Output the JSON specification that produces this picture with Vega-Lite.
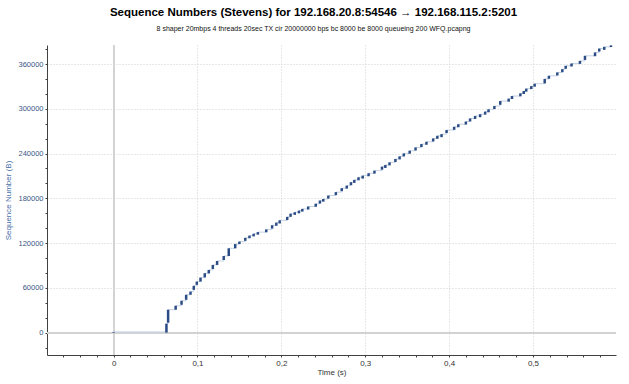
{
  "$schema": "https://vega.github.io/schema/vega-lite/v6.json",
  "autosize": {"type": "none"},
  "width": 569,
  "height": 310,
  "padding": {"left": 47, "top": 45, "right": 13, "bottom": 29},
  "background": "white",
  "config": {"view": {"stroke": null}, "font": "Liberation Sans"},
  "title": {
    "text": "Sequence Numbers (Stevens) for 192.168.20.8:54546 → 192.168.115.2:5201",
    "subtitle": "8 shaper 20mbps 4 threads 20sec TX cir 20000000 bps bc 8000 be 8000 queueing 200 WFQ.pcapng",
    "anchor": "middle",
    "dx": -18,
    "font": "Liberation Sans",
    "fontSize": 11.5,
    "fontWeight": "bold",
    "color": "#000000",
    "subtitleFont": "Liberation Sans",
    "subtitleFontSize": 7,
    "subtitleColor": "#111111",
    "subtitlePadding": 7,
    "offset": 11
  },
  "data": {"values": [
    {"t": 0, "s": 0, "e": 900},
    {"t": 0.063, "s": 0, "e": 12000},
    {"t": 0.065, "s": 13300, "e": 30700},
    {"t": 0.074, "s": 30700, "e": 36000},
    {"t": 0.081, "s": 37300, "e": 42700},
    {"t": 0.0865, "s": 44000, "e": 50700},
    {"t": 0.0917, "s": 50700, "e": 55000},
    {"t": 0.0956, "s": 57300, "e": 62700},
    {"t": 0.0992, "s": 64000, "e": 68400},
    {"t": 0.1036, "s": 68400, "e": 73700},
    {"t": 0.1087, "s": 74000, "e": 79600},
    {"t": 0.1135, "s": 79300, "e": 84000},
    {"t": 0.1183, "s": 85300, "e": 90700},
    {"t": 0.1234, "s": 90700, "e": 96000},
    {"t": 0.1313, "s": 97300, "e": 102700},
    {"t": 0.1373, "s": 102700, "e": 113000},
    {"t": 0.145, "s": 113000, "e": 118700},
    {"t": 0.150, "s": 118700, "e": 122000},
    {"t": 0.157, "s": 123000, "e": 127000},
    {"t": 0.162, "s": 126500, "e": 130000},
    {"t": 0.167, "s": 129000, "e": 132500},
    {"t": 0.172, "s": 131300, "e": 134700},
    {"t": 0.182, "s": 134500, "e": 138300},
    {"t": 0.189, "s": 139500, "e": 143900},
    {"t": 0.194, "s": 143200, "e": 147400},
    {"t": 0.198, "s": 146300, "e": 150500},
    {"t": 0.207, "s": 150900, "e": 155100},
    {"t": 0.211, "s": 155200, "e": 159400},
    {"t": 0.216, "s": 157800, "e": 161400},
    {"t": 0.221, "s": 159900, "e": 163500},
    {"t": 0.225, "s": 162200, "e": 165800},
    {"t": 0.232, "s": 165000, "e": 169000},
    {"t": 0.241, "s": 168700, "e": 172700},
    {"t": 0.246, "s": 173000, "e": 177000},
    {"t": 0.250, "s": 175500, "e": 179100},
    {"t": 0.256, "s": 179700, "e": 183700},
    {"t": 0.265, "s": 184300, "e": 188300},
    {"t": 0.272, "s": 189600, "e": 193600},
    {"t": 0.278, "s": 193000, "e": 197000},
    {"t": 0.283, "s": 197600, "e": 201600},
    {"t": 0.287, "s": 200700, "e": 204700},
    {"t": 0.292, "s": 204200, "e": 208200},
    {"t": 0.297, "s": 206400, "e": 210400},
    {"t": 0.304, "s": 209600, "e": 213600},
    {"t": 0.311, "s": 213100, "e": 217100},
    {"t": 0.320, "s": 218400, "e": 222400},
    {"t": 0.324, "s": 220700, "e": 224700},
    {"t": 0.329, "s": 224200, "e": 228200},
    {"t": 0.336, "s": 228700, "e": 232700},
    {"t": 0.341, "s": 232200, "e": 236200},
    {"t": 0.346, "s": 236200, "e": 240200},
    {"t": 0.353, "s": 239800, "e": 243800},
    {"t": 0.360, "s": 244200, "e": 248200},
    {"t": 0.367, "s": 248700, "e": 252700},
    {"t": 0.373, "s": 251800, "e": 255800},
    {"t": 0.381, "s": 256200, "e": 260200},
    {"t": 0.386, "s": 259800, "e": 263800},
    {"t": 0.391, "s": 262000, "e": 266000},
    {"t": 0.397, "s": 267500, "e": 271500},
    {"t": 0.406, "s": 271800, "e": 275800},
    {"t": 0.411, "s": 275300, "e": 279300},
    {"t": 0.420, "s": 278900, "e": 282900},
    {"t": 0.425, "s": 283000, "e": 287000},
    {"t": 0.431, "s": 286400, "e": 290400},
    {"t": 0.437, "s": 288700, "e": 292700},
    {"t": 0.443, "s": 292200, "e": 296200},
    {"t": 0.447, "s": 295300, "e": 299300},
    {"t": 0.454, "s": 299700, "e": 303700},
    {"t": 0.461, "s": 305400, "e": 310400},
    {"t": 0.471, "s": 309600, "e": 313600},
    {"t": 0.475, "s": 313100, "e": 317100},
    {"t": 0.485, "s": 316700, "e": 320700},
    {"t": 0.489, "s": 319800, "e": 323800},
    {"t": 0.492, "s": 323000, "e": 327000},
    {"t": 0.498, "s": 326400, "e": 330400},
    {"t": 0.502, "s": 329600, "e": 333600},
    {"t": 0.514, "s": 334000, "e": 340000},
    {"t": 0.519, "s": 340200, "e": 344200},
    {"t": 0.529, "s": 344700, "e": 348700},
    {"t": 0.535, "s": 349100, "e": 353100},
    {"t": 0.539, "s": 353600, "e": 357600},
    {"t": 0.546, "s": 356700, "e": 360700},
    {"t": 0.556, "s": 360200, "e": 364200},
    {"t": 0.562, "s": 365500, "e": 371000},
    {"t": 0.574, "s": 370500, "e": 375500},
    {"t": 0.579, "s": 376700, "e": 380700},
    {"t": 0.585, "s": 379000, "e": 383000},
    {"t": 0.593, "s": 382800, "e": 385000}
  ]},
  "layer": [
    {
      "mark": {"type": "rule", "color": "#d2d2d2", "strokeWidth": 1},
      "encoding": {
        "x": {"datum": 0, "type": "quantitative", "scale": {"domain": [-0.0794, 0.599], "nice": false, "zero": false}},
        "y": {"value": 0},
        "y2": {"value": 310}
      }
    },
    {
      "mark": {"type": "rule", "color": "#d2d2d2", "strokeWidth": 1},
      "encoding": {
        "y": {"datum": 0, "type": "quantitative", "scale": {"domain": [-30000, 385500], "nice": false, "zero": false}},
        "x": {"value": 0},
        "x2": {"value": 569}
      }
    },
    {
      "mark": {"type": "line", "color": "#c3d1e6", "strokeWidth": 1, "interpolate": "step-after"},
      "encoding": {
        "x": {"field": "t", "type": "quantitative"},
        "y": {"field": "e", "type": "quantitative"}
      }
    },
    {
      "mark": {"type": "rule", "color": "#2b4c84", "strokeWidth": 2.5},
      "encoding": {
        "x": {
          "field": "t", "type": "quantitative",
          "scale": {"domain": [-0.0794, 0.599], "nice": false, "zero": false},
          "axis": {
            "title": "Time (s)",
            "titleFont": "Liberation Sans",
            "titleFontSize": 8,
            "titleFontWeight": "normal",
            "titleColor": "#333333",
            "titlePadding": 1,
            "tickCount": 200,
            "values": [-0.08, -0.06, -0.04, -0.02, 0, 0.02, 0.04, 0.06, 0.08, 0.1, 0.12, 0.14, 0.16, 0.18, 0.2, 0.22, 0.24, 0.26, 0.28, 0.3, 0.32, 0.34, 0.36, 0.38, 0.4, 0.42, 0.44, 0.46, 0.48, 0.5, 0.52, 0.54, 0.56, 0.58],
            "labelExpr": "abs(datum.value*10 - round(datum.value*10)) < 0.001 ? (abs(datum.value) < 0.0001 ? '0' : replace(format(datum.value, '.1f'), '.', ',')) : ''",
            "labelFont": "Liberation Sans",
            "labelFontSize": 8,
            "labelColor": "#333333",
            "labelPadding": 2,
            "labelFlush": false,
            "labelOverlap": false,
            "domainColor": "#404040",
            "tickColor": "#404040",
            "tickSize": 2,
            "grid": true,
            "gridColor": "#cfcfcf",
            "gridDash": [1, 2],
            "gridOpacity": {"condition": {"test": "abs(datum.value*10 - round(datum.value*10)) < 0.001 && abs(datum.value) > 0.0001", "value": 1}, "value": 0}
          }
        },
        "y": {
          "field": "s", "type": "quantitative",
          "scale": {"domain": [-30000, 385500], "nice": false, "zero": false},
          "axis": {
            "title": "Sequence Number (B)",
            "titleFont": "Liberation Sans",
            "titleFontSize": 8,
            "titleFontWeight": "normal",
            "titleColor": "#4a6fa8",
            "titlePadding": 5,
            "tickCount": 200,
            "values": [-20000, 0, 20000, 40000, 60000, 80000, 100000, 120000, 140000, 160000, 180000, 200000, 220000, 240000, 260000, 280000, 300000, 320000, 340000, 360000, 380000],
            "labelExpr": "datum.value % 60000 == 0 ? format(datum.value, 'd') : ''",
            "labelFont": "Liberation Sans",
            "labelFontSize": 7.5,
            "labelColor": "#3a5686",
            "labelPadding": 2,
            "labelOverlap": false,
            "domainColor": "#404040",
            "tickColor": "#404040",
            "tickSize": 2,
            "grid": true,
            "gridColor": "#cfcfcf",
            "gridDash": [1, 2],
            "gridOpacity": {"condition": {"test": "datum.value % 60000 == 0 && datum.value != 0", "value": 1}, "value": 0}
          }
        },
        "y2": {"field": "e"}
      }
    }
  ]
}
